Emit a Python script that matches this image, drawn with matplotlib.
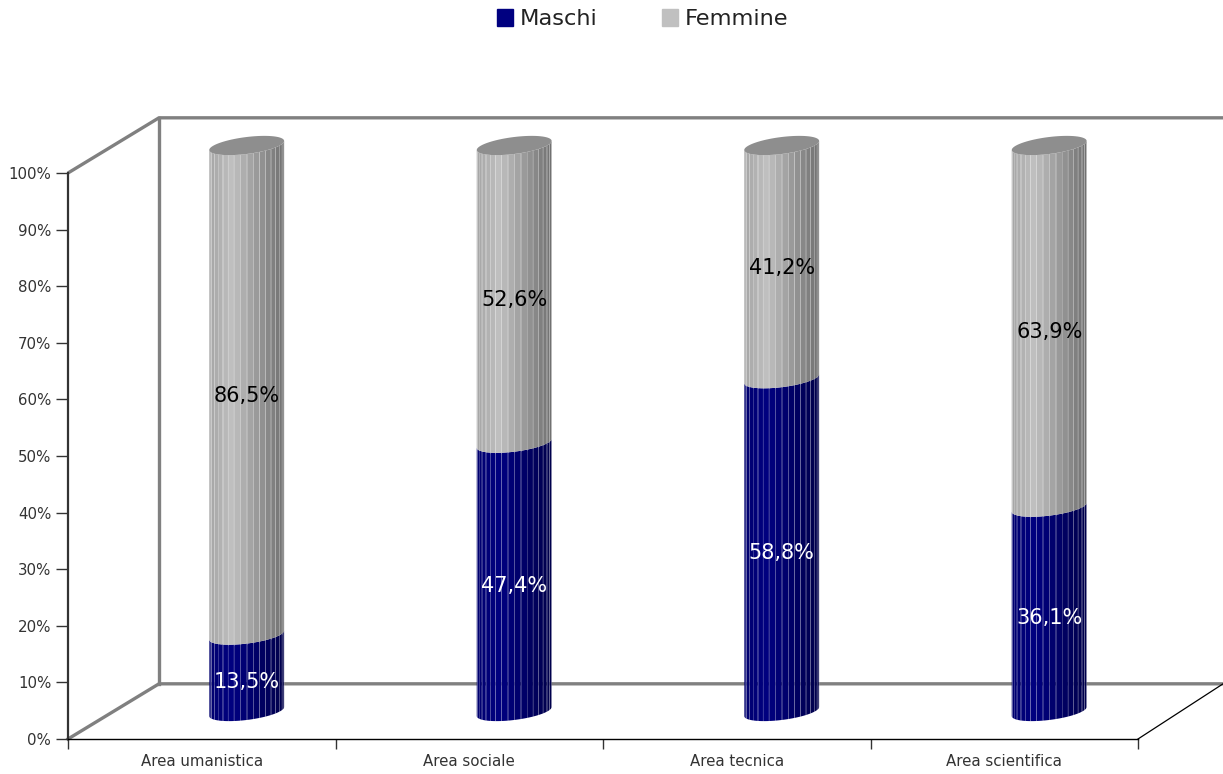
import matplotlib
matplotlib.use('Agg')
import matplotlib.pyplot as plt
from matplotlib.patches import Patch
import numpy as np

categories = ['Area umanistica', 'Area sociale', 'Area tecnica', 'Area scientifica']
maschi = [13.5, 47.4, 58.8, 36.1]
femmine = [86.5, 52.6, 41.2, 63.9]
maschi_labels = ['13,5%', '47,4%', '58,8%', '36,1%']
femmine_labels = ['86,5%', '52,6%', '41,2%', '63,9%']
y_ticks = list(range(0, 101, 10))

NAVY = '#000080'
GRAY = '#c0c0c0'
WALL = '#808080'
TEXT = '#333333'

# fake 3d: offsets in data units (x = categories, y = percent)
WALL_DX, WALL_DY = 0.34, 9.75
BAR_DX, BAR_DY = 0.168, 4.86
BAR_HALF = 0.14
TILT, ROUND = 0.8, 1.5


def cyl_arc(t):
    # front or back edge of the tilted ellipse, relative to its centre
    return BAR_HALF * np.cos(t), TILT * np.cos(t) - ROUND * np.sin(t)


def shade(pos, rgb):
    # light band on the left third, getting darker to the right
    f = np.interp(pos, [0, 0.3, 1], [0.86, 1.0, 0.58])
    return tuple(c * f for c in rgb)


def draw_segment(ax, cx, start, height, color):
    rgb = matplotlib.colors.to_rgb(color)
    edges = np.linspace(np.pi, 0, 19)
    for n, (t0, t1) in enumerate(zip(edges[:-1], edges[1:])):
        tt = np.linspace(t0, t1, 5)
        dx, dy = cyl_arc(tt)
        xs = cx + dx
        low = start + BAR_DY + dy
        high = low + height
        pos = (xs.mean() - cx + BAR_HALF) / (2 * BAR_HALF)
        ax.fill(np.r_[xs, xs[::-1]], np.r_[low, high[::-1]],
                color=shade(pos, rgb), lw=0, clip_on=False, zorder=3)
        # thin light seams between the facets
        if n > 0:
            ax.plot([xs[0], xs[0]], [low[0], high[0]], color='white', lw=0.5, alpha=0.3,
                    clip_on=False, zorder=3)


fig = plt.figure(figsize=(12.23, 7.74), dpi=100)
ax = fig.add_axes([68 / 1223, 35 / 774, 1070 / 1223, 566 / 774])
ax.set_xlim(0, 4)
ax.set_ylim(0, 100)
ax.patch.set_visible(False)

# back wall and floor
x_end = 4.318
ax.plot([0, WALL_DX, x_end], [100, 100 + WALL_DY, 100 + WALL_DY],
        color=WALL, lw=2.4, clip_on=False, zorder=1, solid_capstyle='butt')
ax.plot([WALL_DX, WALL_DX], [WALL_DY, 100 + WALL_DY], color=WALL, lw=2.4, clip_on=False, zorder=1)
ax.plot([0, WALL_DX, x_end], [0, WALL_DY, WALL_DY], color=WALL, lw=2.4, clip_on=False, zorder=1)
ax.plot([4, x_end], [0, WALL_DY], color='black', lw=0.9, clip_on=False, zorder=1)

# cylinders
for i, cat in enumerate(categories):
    cx = i + 0.5 + BAR_DX
    draw_segment(ax, cx, 0, maschi[i], NAVY)
    draw_segment(ax, cx, maschi[i], femmine[i], GRAY)
    tt = np.linspace(0, 2 * np.pi, 80)
    dx, dy = cyl_arc(tt)
    ax.fill(cx + dx, 100 + BAR_DY + dy, color='#8e8e8e', lw=0, clip_on=False, zorder=4)

    ax.text(cx, maschi[i] / 2 + 3.4, maschi_labels[i], color='white', fontsize=15,
            ha='center', va='center', zorder=5)
    ax.text(cx, maschi[i] + femmine[i] / 2 + 3.8, femmine_labels[i], color='black', fontsize=15,
            ha='center', va='center', zorder=5)

# axes
for side in ('top', 'right'):
    ax.spines[side].set_visible(False)
ax.spines['left'].set_color('#333333')
ax.spines['left'].set_linewidth(1.6)
ax.spines['bottom'].set_color('black')
ax.spines['bottom'].set_linewidth(1.0)

ax.set_yticks(y_ticks)
ax.set_yticklabels([f'{v}%' for v in y_ticks], fontsize=10.8, color=TEXT)
ax.tick_params(axis='y', length=9, width=1.0, color='#333333', pad=3)

ax.set_xticks(range(5))
ax.set_xticklabels([])
ax.tick_params(axis='x', length=7, width=1.0, color='#333333')
for i, cat in enumerate(categories):
    ax.annotate(cat, (i + 0.5, 0), xytext=(0, -16), textcoords='offset points',
                ha='center', va='center', fontsize=10.8, color=TEXT, annotation_clip=False)

handles = [Patch(color=NAVY, label='Maschi'), Patch(color=GRAY, label='Femmine')]
fig.legend(handles=handles, loc='center', bbox_to_anchor=(0.5254, 0.975), ncol=2, frameon=False,
           fontsize=16.2, handlelength=0.72, handleheight=0.72, handletextpad=0.27, columnspacing=2.9,
           labelcolor='#222222')

fig.savefig('out.png', dpi=100)
